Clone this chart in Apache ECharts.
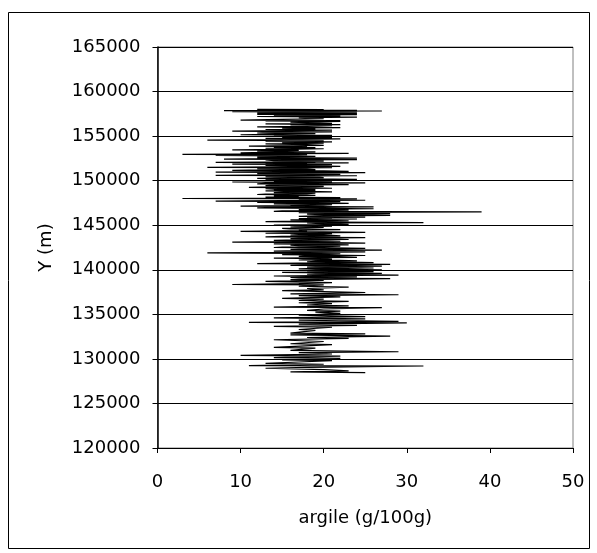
<!DOCTYPE html>
<html>
<head>
<meta charset="utf-8">
<script src="https://cdn.jsdelivr.net/npm/echarts@6/dist/echarts.min.js"></script>
<style>
html,body{margin:0;padding:0;background:#fff;}
#chart{width:597px;height:553px;}
</style>
</head>
<body>
<div id="chart"></div>
<script>
// Y coordinate (m) of each sample, in drawing order (one line per ~1000 m)
const yMeters = [
158000,157970,157940,157900,157860,157820,157780,157740,157700,157660,157620,157580,157540,157500,157450,157400,157330,157260,157200,157130,157060,
156950,156880,156800,156750,156700,156640,156580,156500,156440,156380,156300,156250,156180,156100,156040,
155950,155880,155800,155740,155680,155620,155550,155480,155420,155350,155280,155220,155150,155080,155020,
154950,154880,154800,154750,154680,154620,154550,154480,154420,154350,154280,154200,154120,154050,
153950,153880,153820,153750,153700,153640,153580,153520,153450,153400,153350,153300,153240,153180,153120,153060,153020,
152960,152920,152880,152830,152780,152730,152680,152630,152580,152530,152480,152420,152370,152320,152260,152200,152150,152100,152050,152000,
151950,151900,151850,151800,151750,151700,151650,151600,151550,151500,151450,151400,151350,151300,151250,151200,151150,151100,151050,151000,
150950,150900,150850,150800,150750,150700,150650,150600,150550,150500,150450,150400,150350,150300,150250,150200,150150,150100,150050,150000,
149950,149900,149850,149800,149750,149700,149650,149600,149550,149500,149450,149400,149350,149300,149250,149200,149150,149100,149050,149000,
148950,148900,148850,148800,148750,148700,148650,148600,148550,148500,148450,148400,148350,148300,148250,148200,148150,148100,148050,148000,
147950,147900,147850,147800,147750,147700,147650,147600,147550,147500,147450,147400,147350,147300,147250,147200,147150,147100,147050,147000,
146950,146900,146850,146800,146750,146700,146650,146600,146550,146500,146450,146400,146350,146300,146250,146200,146150,146100,146050,146000,
145950,145900,145850,145800,145750,145700,145650,145600,145550,145500,145450,145400,145350,145300,145250,145200,145150,145100,145050,145000,
144950,144900,144850,144800,144750,144700,144650,144600,144550,144500,144450,144400,144300,144250,144200,144150,144100,144050,144000,
143950,143900,143850,143800,143750,143700,143650,143600,143550,143500,143450,143400,143350,143300,143250,143200,143150,143100,143050,143000,
142950,142900,142850,142800,142750,142700,142650,142600,142550,142500,142450,142400,142350,142300,142250,142200,142150,142100,142050,142000,
141950,141900,141850,141800,141750,141700,141650,141600,141550,141500,141450,141400,141350,141300,141250,141200,141150,141100,141050,141000,
140950,140900,140850,140800,140750,140700,140650,140600,140550,140500,140450,140400,140350,140300,140250,140200,140150,140100,140050,140000,
139950,139900,139850,139800,139750,139700,139650,139600,139550,139500,139450,139400,139350,139300,139250,139200,139150,139100,139050,139000,
138900,138800,138700,138550,138450,138350,138300,138150,138050,
137900,137750,137650,137450,137300,137200,137100,136950,136800,136700,136550,136450,136300,136200,136050,135950,135800,135750,135600,135450,
135350,135250,135100,134900,134750,134600,134500,134350,134200,134100,134050,133900,133750,133650,133550,133300,133200,132900,132800,132700,
132550,132400,132300,132150,131950,131700,131600,131300,131200,130950,130800,130700,130550,130400,130300,130150,130050,129900,129800,129650,
129500,129400,129250,129200,129050,128950,128800,128650,128550,128450
];
// argile (g/100g) of each sample, same order and line layout
const argile = [
12,20,14,24,8,27,12,9,24,14,20,12,24,17,12,24,14,22,12,24,17,
20,15,10,22,13,22,16,18,21,13,22,16,21,18,12,
22,15,19,13,21,16,9,21,14,12,19,15,10,21,14,
21,15,21,13,22,16,6,20,13,21,15,20,13,18,
20,11,18,14,19,13,20,15,9,17,14,12,19,13,10,23,16,
3,18,12,7,15,19,12,17,12,24,14,8,24,13,14,20,15,19,7,23,
13,18,9,21,14,13,19,22,15,6,21,13,12,18,19,13,9,20,23,14,
7,25,14,12,19,22,15,7,24,16,13,19,20,14,12,18,24,13,15,21,
14,21,9,17,25,13,12,19,23,14,13,18,20,14,11,19,21,13,14,19,
14,19,13,18,21,15,14,19,18,13,12,17,19,14,17,16,13,22,18,3,
24,17,19,25,15,7,22,16,12,20,23,14,14,21,20,16,10,19,26,14,
12,20,26,18,17,23,21,15,14,39,19,17,24,28,18,20,24,28,19,17,
22,25,18,21,17,24,19,16,20,23,17,13,21,32,18,19,21,23,16,14,
19,21,17,16,20,18,15,16,19,22,17,18,10,20,25,17,13,21,20,
17,16,21,22,15,13,20,25,18,16,21,23,17,14,19,22,16,9,21,25,
17,14,20,23,16,17,22,20,15,14,21,25,18,16,22,27,17,14,20,25,
18,6,17,22,19,15,21,25,18,17,22,24,19,14,20,21,18,17,22,24,
19,18,23,26,17,12,22,28,19,16,24,27,20,18,23,26,19,17,23,27,
20,18,24,26,19,15,21,27,20,18,23,29,19,14,18,24,16,17,22,28,
16,20,13,21,17,9,20,17,23,
18,20,15,25,16,29,17,22,15,20,17,23,17,21,18,23,14,27,20,18,
22,19,22,17,25,14,25,17,29,11,30,17,24,14,21,17,19,16,25,16,
28,18,23,14,20,16,21,14,19,16,29,17,21,10,22,14,22,15,21,17,
13,20,11,32,18,13,20,23,16,25
];
const xTicks = [0, 50, 10];            // min, max, interval
const yTicks = [120000, 165000, 5000]; // min, max, interval
const xTitle = 'argile (g/100g)';
const yTitle = 'Y (m)';

const n = Math.min(yMeters.length, argile.length);
const points = [];
for (let i = 0; i < n; i++) points.push([argile[i], yMeters[i]]);
const FONT = 'DejaVu Sans';

const chart = echarts.init(document.getElementById('chart'), null, {renderer: 'canvas'});
chart.setOption({
  animation: false,
  backgroundColor: '#fff',
  graphic: [{
    type: 'rect', silent: true, z: -1,
    shape: {x: 8.5, y: 12.5, width: 581, height: 536},
    style: {fill: 'none', stroke: '#000', lineWidth: 1}
  }],
  grid: {
    left: 157.5, right: 24, top: 47, bottom: 105,
    show: true, borderColor: '#808080', borderWidth: 1, backgroundColor: 'transparent'
  },
  xAxis: {
    type: 'value', min: xTicks[0], max: xTicks[1], interval: xTicks[2],
    name: xTitle, nameLocation: 'middle', nameGap: 61,
    nameTextStyle: {fontFamily: FONT, fontSize: 18, color: '#000'},
    axisLine: {show: true, lineStyle: {color: '#000', width: 1}},
    axisTick: {show: true, inside: false, length: 5, lineStyle: {color: '#000'}},
    axisLabel: {fontFamily: FONT, fontSize: 18, color: '#000', margin: 25},
    splitLine: {show: false}
  },
  yAxis: {
    type: 'value', min: yTicks[0], max: yTicks[1], interval: yTicks[2],
    name: yTitle, nameLocation: 'middle', nameGap: 102, nameRotate: 90,
    nameTextStyle: {fontFamily: FONT, fontSize: 18, color: '#000'},
    axisLine: {show: true, lineStyle: {color: '#000', width: 1.5}},
    axisTick: {show: true, inside: false, length: 5, lineStyle: {color: '#000'}},
    axisLabel: {fontFamily: FONT, fontSize: 18, color: '#000', margin: 17,
      formatter: v => String(v)},
    splitLine: {show: true, lineStyle: {color: '#000', width: 1}}
  },
  series: [{
    type: 'line',
    data: points,
    showSymbol: false,
    symbol: 'none',
    lineStyle: {color: '#000', width: 1.2},
    clip: true
  }]
});
</script>
</body>
</html>
